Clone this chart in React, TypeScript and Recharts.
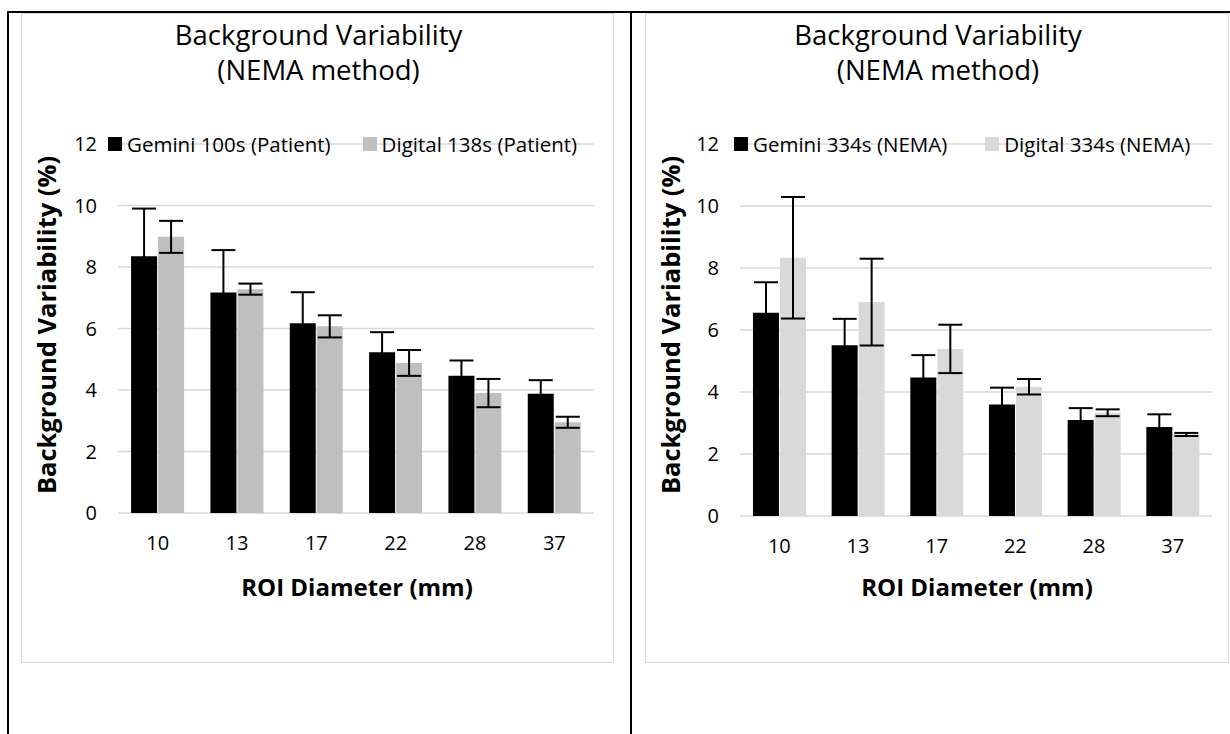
import React from "react";
import { BarChart, Bar, XAxis, YAxis, CartesianGrid, ErrorBar } from "recharts";

const diameters = ["10", "13", "17", "22", "28", "37"];
const yTicks = [0, 2, 4, 6, 8, 10, 12];

// left panel: patient acquisitions
const gemPatient = [8.35, 7.17, 6.17, 5.23, 4.46, 3.88];
const gemPatientErr = [1.55, 1.38, 1.01, 0.65, 0.5, 0.44];
const digPatient = [8.98, 7.28, 6.07, 4.88, 3.9, 2.95];
const digPatientErr = [0.52, 0.18, 0.36, 0.42, 0.46, 0.18];

// right panel: NEMA acquisitions
const gemNema = [6.56, 5.51, 4.47, 3.6, 3.1, 2.87];
const gemNemaErr = [0.98, 0.85, 0.72, 0.54, 0.38, 0.41];
const digNema = [8.33, 6.9, 5.39, 4.17, 3.33, 2.63];
const digNemaErr = [1.96, 1.4, 0.78, 0.25, 0.11, 0.05];

const FONT = "'Open Sans', sans-serif";
const GRID = "#D9D9D9";

function buildRows(a: number[], aErr: number[], b: number[], bErr: number[]) {
  return diameters.map((d, i) => ({ d, a: a[i], aErr: aErr[i], b: b[i], bErr: bErr[i] }));
}

interface PanelProps {
  left: number;
  width: number;
  plot: { left: number; right: number; top: number; bottom: number };
  names: [string, string];
  colors: [string, string];
  rows: any[];
  legendGap: number;
  legendLeft: number;
}

function Panel({ left, width, plot, names, colors, rows, legendGap, legendLeft }: PanelProps) {
  const height = 650;
  const yAxisWidth = 60;
  const xAxisHeight = 60;
  const cx = plot.left + (width - plot.right - plot.left) / 2;

  return (
    <div
      style={{
        position: "absolute",
        left,
        top: 13,
        width,
        height,
        boxSizing: "border-box",
        border: `1.5px solid ${GRID}`,
        background: "#fff",
      }}
    >
      <div style={{ position: "absolute", left: 0, width, top: 3, textAlign: "center", fontFamily: FONT, fontSize: 27.5, lineHeight: "35px", color: "#000" }}>
        Background Variability
        <br />
        (NEMA method)
      </div>
      <div style={{ position: "absolute", left: -1.5, top: -1.5 }}>
        <BarChart
          width={width}
          height={height}
          data={rows}
          margin={{ top: plot.top, right: plot.right, bottom: height - plot.bottom - xAxisHeight, left: plot.left - yAxisWidth }}
          barCategoryGap="16.5%"
          barGap={1}
        >
          <CartesianGrid vertical={false} stroke={GRID} strokeWidth={1.5} />
          <XAxis
            dataKey="d"
            height={xAxisHeight}
            axisLine={false}
            tickLine={false}
            tickMargin={17}
            tick={{ fill: "#000", fontSize: 20, fontFamily: FONT }}
          />
          <YAxis
            width={yAxisWidth}
            domain={[0, 12]}
            ticks={yTicks}
            interval={0}
            axisLine={false}
            tickLine={false}
            tickMargin={15}
            tick={{ fill: "#000", fontSize: 20, fontFamily: FONT }}
          />
          <Bar dataKey="a" name={names[0]} fill={colors[0]} isAnimationActive={false}>
            <ErrorBar dataKey="aErr" width={12} stroke="#000" strokeWidth={2} direction="y" />
          </Bar>
          <Bar dataKey="b" name={names[1]} fill={colors[1]} isAnimationActive={false}>
            <ErrorBar dataKey="bErr" width={12} stroke="#000" strokeWidth={2} direction="y" />
          </Bar>
        </BarChart>
      </div>
      <div
        style={{
          position: "absolute",
          left: legendLeft,
          top: plot.top - 16,
          width: "max-content",
          display: "flex",
          alignItems: "center",
          fontFamily: FONT,
          fontSize: 20.5,
          lineHeight: "30px",
          color: "#000",
          whiteSpace: "nowrap",
        }}
      >
        {names.map((n, i) => (
          <div key={n} style={{ display: "flex", alignItems: "center", flexShrink: 0, marginLeft: i ? legendGap : 0 }}>
            <span style={{ width: 14, height: 14, background: colors[i], marginRight: 5, display: "inline-block", flexShrink: 0 }} />
            <span>{n}</span>
          </div>
        ))}
      </div>
      <div
        style={{
          position: "absolute",
          left: 24,
          top: 311,
          transform: "translate(-50%, -50%) rotate(-90deg)",
          fontFamily: FONT,
          fontWeight: 700,
          fontSize: 25.5,
          whiteSpace: "nowrap",
          color: "#000",
        }}
      >
        Background Variability (%)
      </div>
      <div
        style={{
          position: "absolute",
          left: cx,
          top: 572,
          transform: "translate(-50%, -50%)",
          fontFamily: FONT,
          fontWeight: 700,
          fontSize: 24,
          whiteSpace: "nowrap",
          color: "#000",
        }}
      >
        ROI Diameter (mm)
      </div>
    </div>
  );
}

export default function App() {
  return (
    <div style={{ position: "absolute", left: 0, top: 0, width: 1230, height: 734, background: "#fff", overflow: "hidden" }}>
      <div style={{ position: "absolute", left: 7, top: 11, width: 1223, height: 2, background: "#000" }} />
      <div style={{ position: "absolute", left: 7, top: 11, width: 2, height: 723, background: "#000" }} />
      <div style={{ position: "absolute", left: 630, top: 11, width: 2, height: 723, background: "#000" }} />
      <Panel
        left={21}
        width={593}
        plot={{ left: 97, right: 20, top: 131, bottom: 500 }}
        names={["Gemini 100s (Patient)", "Digital 138s (Patient)"]}
        colors={["#000000", "#BFBFBF"]}
        rows={buildRows(gemPatient, gemPatientErr, digPatient, digPatientErr)}
        legendGap={32}
        legendLeft={86}
      />
      <Panel
        left={645}
        width={584}
        plot={{ left: 95, right: 17, top: 131, bottom: 503 }}
        names={["Gemini 334s (NEMA)", "Digital 334s (NEMA)"]}
        colors={["#000000", "#D9D9D9"]}
        rows={buildRows(gemNema, gemNemaErr, digNema, digNemaErr)}
        legendGap={38}
        legendLeft={88}
      />
    </div>
  );
}
